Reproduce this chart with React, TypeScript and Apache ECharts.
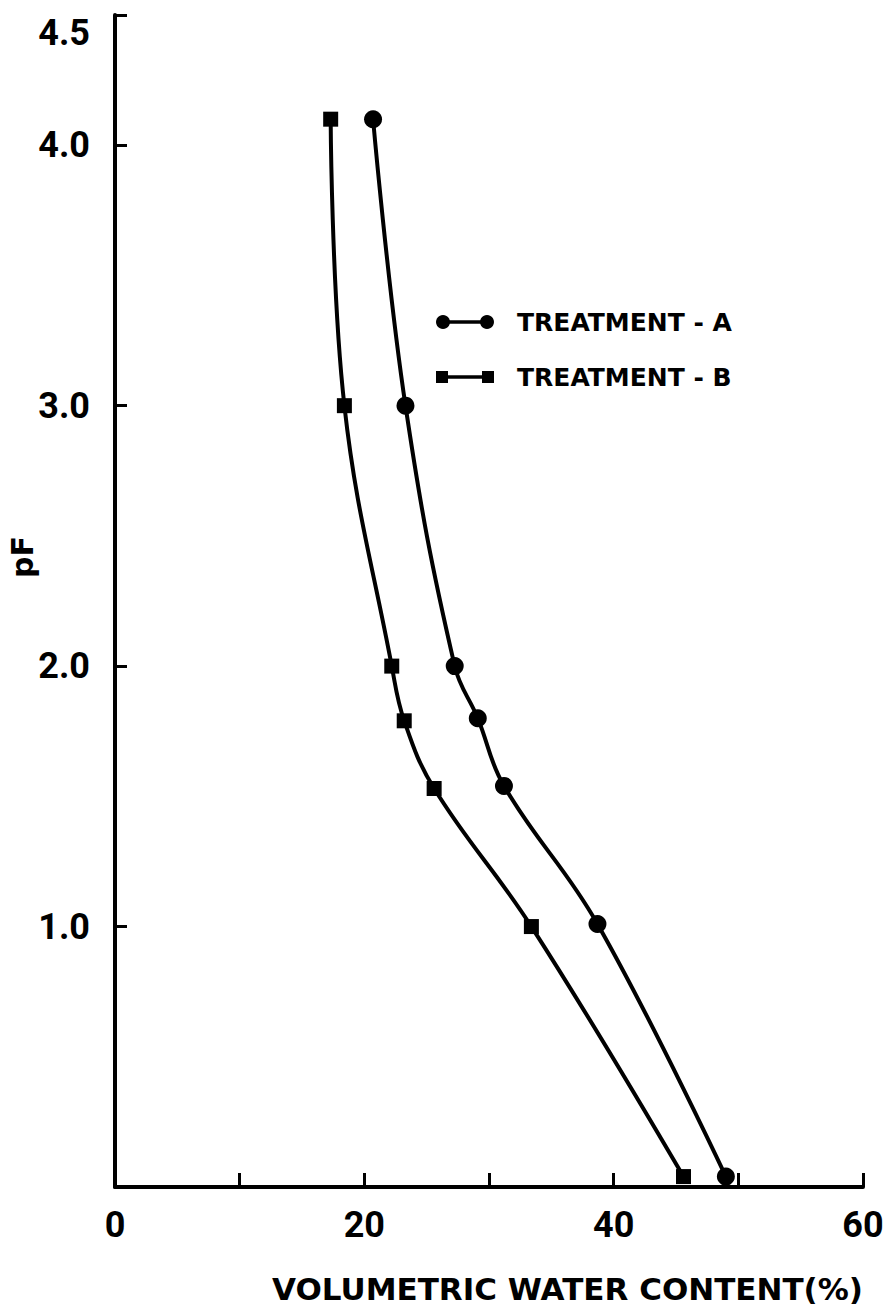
import React, { useEffect, useRef } from "react";
import * as echarts from "echarts";

// Treatment A (circles)
const waterA = [20.7, 23.3, 27.25, 29.1, 31.2, 38.7, 49.0];
const pfA = [4.1, 3.0, 2.0, 1.8, 1.54, 1.01, 0.04];
// Treatment B (squares)
const waterB = [17.3, 18.4, 22.2, 23.2, 25.6, 33.4, 45.6];
const pfB = [4.1, 3.0, 2.0, 1.79, 1.53, 1.0, 0.04];

const xLabelValues = [0, 20, 40, 60];
const xTickValues = [0, 10, 20, 30, 40, 50, 60];
const yLabelValues = [1, 2, 3, 4, 4.5];
const seriesNames = ["TREATMENT - A", "TREATMENT - B"];
const xTitle = "VOLUMETRIC WATER CONTENT(%)";
const yTitle = "pF";

const NUM_FONT = "Roboto, sans-serif";
const TXT_FONT = "'DejaVu Sans', sans-serif";

function zip(xs: number[], ys: number[]) {
  return xs.map((x, i) => [x, ys[i]]);
}

export default function App() {
  const ref = useRef<HTMLDivElement>(null);
  useEffect(() => {
    if (!ref.current) return;
    const chart = echarts.init(ref.current, null, { renderer: "svg" });
    const axisLine = { show: true, lineStyle: { color: "#000", width: 4 } };
    const option: any = {
      animation: false,
      backgroundColor: "#fff",
      grid: { left: 115, right: 22, top: 15, bottom: 124, outerBoundsMode: "none" },
      xAxis: {
        type: "value",
        min: 0,
        max: 60,
        interval: 10,
        axisLine,
        splitLine: { show: false },
        axisTick: {
          show: true,
          inside: true,
          length: 14,
          lineStyle: { color: "#000", width: 3 },
          customValues: xTickValues,
        },
        axisLabel: {
          customValues: xLabelValues,
          margin: 20,
          color: "#000",
          fontFamily: NUM_FONT,
          fontWeight: "bold",
          fontSize: 36,
        },
        name: xTitle,
        nameLocation: "end",
        nameGap: 0,
        nameTextStyle: {
          align: "right",
          verticalAlign: "top",
          padding: [86, 0, 0, 0],
          color: "#000",
          fontFamily: TXT_FONT,
          fontWeight: "bold",
          fontSize: 31,
        },
      },
      yAxis: {
        type: "value",
        min: 0,
        max: 4.5,
        interval: 0.5,
        axisLine,
        splitLine: { show: false },
        axisTick: {
          show: true,
          inside: true,
          length: 12,
          lineStyle: { color: "#000", width: 3 },
          customValues: yLabelValues,
        },
        axisLabel: {
          customValues: yLabelValues,
          margin: 25,
          color: "#000",
          fontFamily: NUM_FONT,
          fontWeight: "bold",
          fontSize: 36,
          verticalAlignMaxLabel: "top",
          formatter: (v: number) => v.toFixed(1),
        },
      },
      graphic: [
        {
          type: "text",
          x: 22,
          y: 557,
          rotation: Math.PI / 2,
          style: {
            text: yTitle,
            fill: "#000",
            font: `bold 30px ${TXT_FONT}`,
            align: "center",
            verticalAlign: "middle",
          },
        },
        // legend row A
        { type: "line", shape: { x1: 443, y1: 322, x2: 487, y2: 322 }, style: { stroke: "#000", lineWidth: 3.5 } },
        { type: "circle", shape: { cx: 443, cy: 322, r: 7 }, style: { fill: "#000" } },
        { type: "circle", shape: { cx: 487, cy: 322, r: 7 }, style: { fill: "#000" } },
        {
          type: "text",
          x: 517,
          y: 322,
          style: { text: seriesNames[0], fill: "#000", font: `bold 25px ${TXT_FONT}`, verticalAlign: "middle" },
        },
        // legend row B
        { type: "line", shape: { x1: 442, y1: 377, x2: 488, y2: 377 }, style: { stroke: "#000", lineWidth: 3.5 } },
        { type: "rect", shape: { x: 436, y: 371, width: 12, height: 12 }, style: { fill: "#000" } },
        { type: "rect", shape: { x: 482, y: 371, width: 12, height: 12 }, style: { fill: "#000" } },
        {
          type: "text",
          x: 517,
          y: 377,
          style: { text: seriesNames[1], fill: "#000", font: `bold 25px ${TXT_FONT}`, verticalAlign: "middle" },
        },
      ],
      series: [
        {
          name: seriesNames[0],
          type: "line",
          data: zip(waterA, pfA),
          smooth: 0.4,
          symbol: "circle",
          symbolSize: 18,
          lineStyle: { color: "#000", width: 4 },
          itemStyle: { color: "#000" },
          clip: false,
        },
        {
          name: seriesNames[1],
          type: "line",
          data: zip(waterB, pfB),
          smooth: 0.4,
          symbol: "rect",
          symbolSize: 15,
          lineStyle: { color: "#000", width: 4 },
          itemStyle: { color: "#000" },
          clip: false,
        },
      ],
    };
    chart.setOption(option);
    return () => chart.dispose();
  }, []);
  return (
    <div
      ref={ref}
      style={{ position: "absolute", left: 0, top: 0, width: 885, height: 1311 }}
    />
  );
}
